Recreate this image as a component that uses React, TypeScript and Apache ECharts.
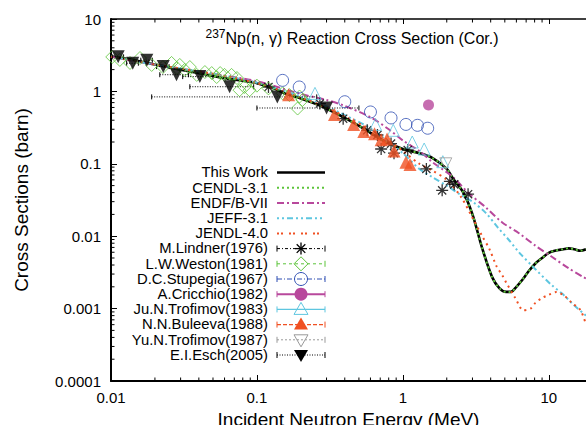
import React, { useEffect, useRef } from "react";
import * as echarts from "echarts";

const FONT = '"Liberation Sans", Arial, Helvetica, sans-serif';

const xTickLabels = ["0.01", "0.1", "1", "10"];
const yTickLabels = ["0.0001", "0.001", "0.01", "0.1", "1", "10"];
const decadesX = [0.01, 0.1, 1];
const decadesY = [0.0001, 0.001, 0.01, 0.1, 1];
const minorMultipliers = [2, 3, 4, 5, 6, 7, 8, 9];

// Evaluated curves
const thisWorkE = [0.01, 0.015, 0.02, 0.03, 0.044, 0.06, 0.08, 0.1, 0.13, 0.16, 0.2, 0.25, 0.3, 0.4, 0.55, 0.75, 1.0, 1.3, 1.6, 2.0, 2.2, 2.6, 3.0, 3.5, 4.1, 4.6, 5.1, 5.5, 6.0, 6.6, 7.3, 8.1, 9.0, 10.0, 11.0, 12.5, 13.7, 15.0, 16.5, 18.0];
const thisWorkS = [3.05, 2.65, 2.35, 2.0, 1.72, 1.52, 1.4, 1.3, 1.1, 0.92, 0.8, 0.68, 0.58, 0.43, 0.3, 0.205, 0.16, 0.14, 0.12, 0.085, 0.063, 0.04, 0.02, 0.0068, 0.0027, 0.0019, 0.0017, 0.0017, 0.002, 0.0025, 0.0033, 0.0042, 0.005, 0.0059, 0.0063, 0.0066, 0.0068, 0.0066, 0.0063, 0.0066];
const cendlE = [0.01, 0.015, 0.02, 0.03, 0.044, 0.06, 0.08, 0.1, 0.13, 0.16, 0.2, 0.25, 0.3, 0.4, 0.55, 0.75, 1.0, 1.3, 1.6, 2.0, 2.2, 2.6, 3.0, 3.5, 4.1, 4.6, 5.1, 5.5, 6.0, 6.6, 7.3, 8.1, 9.0, 10.0, 11.0, 12.5, 13.7, 15.0, 16.5, 18.0];
const cendlS = [3.05, 2.65, 2.35, 2.0, 1.72, 1.52, 1.4, 1.3, 1.1, 0.92, 0.8, 0.68, 0.58, 0.43, 0.3, 0.205, 0.16, 0.14, 0.12, 0.085, 0.063, 0.04, 0.02, 0.0068, 0.0027, 0.0019, 0.0017, 0.0017, 0.002, 0.0025, 0.0033, 0.0042, 0.005, 0.0059, 0.0063, 0.0066, 0.0068, 0.0066, 0.0063, 0.0066];
const endfE = [0.01, 0.02, 0.05, 0.1, 0.2, 0.3, 0.4, 0.6, 0.8, 1.0, 1.3, 1.6, 2.2, 2.8, 3.7, 4.8, 6.25, 8.1, 10.5, 13.7, 18.0];
const endfS = [3.0, 2.35, 1.75, 1.38, 0.92, 0.76, 0.63, 0.44, 0.3, 0.21, 0.15, 0.105, 0.066, 0.04, 0.025, 0.0155, 0.011, 0.0074, 0.0052, 0.0036, 0.0026];
const jeffE = [0.01, 0.02, 0.05, 0.1, 0.2, 0.3, 0.4, 0.6, 0.8, 1.0, 1.3, 1.6, 2.0, 2.5, 3.0, 3.7, 4.5, 5.3, 6.25, 8.1, 10.5, 12.4, 15.0, 18.0];
const jeffS = [3.0, 2.35, 1.75, 1.32, 0.85, 0.62, 0.47, 0.31, 0.2, 0.14, 0.085, 0.065, 0.05, 0.037, 0.03, 0.021, 0.013, 0.009, 0.006, 0.0035, 0.0021, 0.0016, 0.0011, 0.0008];
const jendlE = [0.01, 0.02, 0.05, 0.1, 0.2, 0.3, 0.4, 0.6, 0.8, 1.0, 1.3, 1.6, 2.0, 2.5, 3.0, 3.5, 3.9, 4.4, 4.8, 5.1, 5.9, 6.7, 7.5, 8.1, 9.0, 10.0, 11.3, 12.8, 14.4, 16.5, 18.0];
const jendlS = [3.0, 2.35, 1.75, 1.3, 0.82, 0.6, 0.45, 0.3, 0.21, 0.15, 0.1, 0.08, 0.06, 0.035, 0.018, 0.01, 0.0068, 0.0038, 0.0029, 0.0023, 0.0014, 0.00095, 0.001, 0.0012, 0.0014, 0.00155, 0.0017, 0.0015, 0.0012, 0.00095, 0.0006];

// Experimental data
const lindnerE = [0.12, 0.27, 0.39, 0.57, 0.67, 0.71, 0.83, 0.87, 1.08, 1.45, 1.86, 2.1, 2.25, 2.8];
const lindnerS = [1.15, 0.68, 0.42, 0.29, 0.25, 0.16, 0.19, 0.14, 0.155, 0.085, 0.043, 0.057, 0.052, 0.038];
const westonE = [0.0102, 0.0115, 0.0135, 0.0158, 0.019, 0.0227, 0.026, 0.0283, 0.0296, 0.032, 0.0347, 0.0387, 0.044, 0.049, 0.053, 0.056, 0.06, 0.067, 0.073, 0.076, 0.082, 0.089, 0.1, 0.12, 0.15, 0.167, 0.19, 0.196, 0.205];
const westonS = [2.99, 2.72, 2.47, 2.89, 2.32, 2.17, 2.47, 2.1, 2.32, 1.98, 2.17, 1.69, 1.85, 1.79, 1.58, 1.79, 1.69, 1.69, 1.53, 1.04, 1.15, 1.04, 1.2, 1.1, 0.94, 0.89, 0.58, 0.85, 0.76];
const stupegiaE = [0.15, 0.195, 0.4, 0.6, 0.83, 1.05, 1.26, 1.48];
const stupegiaS = [1.42, 1.15, 0.72, 0.52, 0.43, 0.35, 0.34, 0.31];
const cricchioE = [1.5];
const cricchioS = [0.65];
const trofimov83E = [0.25, 0.65, 0.86, 1.16, 1.4, 1.88];
const trofimov83S = [0.94, 0.35, 0.29, 0.2, 0.16, 0.107];
const buleevaE = [0.165, 0.34, 0.46, 0.54, 0.64, 0.71, 0.78, 0.87, 1.05, 1.12];
const buleevaS = [0.9, 0.48, 0.35, 0.28, 0.26, 0.215, 0.22, 0.15, 0.105, 0.098];
const trofimov87E = [1.97];
const trofimov87S = [0.1];
const eschE = [0.0112, 0.0141, 0.0176, 0.0228, 0.0281, 0.0406, 0.065, 0.138, 0.3];
const eschS = [3.0, 2.45, 2.7, 2.2, 1.7, 1.6, 1.16, 0.84, 0.59];
const eschLo = [0.0102, 0.0128, 0.016, 0.0205, 0.0216, 0.031, 0.0347, 0.019, 0.1];
const eschHi = [0.0122, 0.0154, 0.0192, 0.025, 0.034, 0.05, 0.095, 0.257, 0.5];

const C = {
  green: "#5cc43a",
  magenta: "#b8489c",
  cyan: "#5ec6e0",
  red: "#f05022",
  blue: "#2f4fb3",
  gray: "#999999",
  black: "#000000",
};

const ASTERISK = "path://M0 5L10 5M5 0L5 10M1.6 1.6L8.4 8.4M1.6 8.4L8.4 1.6";

const zip = (a: number[], b: number[]) => a.map((v, i) => [v, b[i]]);

function fmt(labels: string[]) {
  return (v: number) => {
    const hit = labels.find((l) => Math.abs(Number(l) / v - 1) < 1e-6);
    return hit ?? "";
  };
}

type LegendItem = {
  name: string;
  stroke: string;
  width: number;
  dash?: number[];
  marker?: string;
  color?: string;
  caps?: boolean;
};

const legendItems: LegendItem[] = [
  { name: "This Work", stroke: C.black, width: 2.5 },
  { name: "CENDL-3.1", stroke: C.green, width: 2, dash: [2, 3] },
  { name: "ENDF/B-VII", stroke: C.magenta, width: 2, dash: [7, 3, 2, 3] },
  { name: "JEFF-3.1", stroke: C.cyan, width: 2, dash: [2, 3, 2, 3, 6, 3] },
  { name: "JENDL-4.0", stroke: C.red, width: 2, dash: [2, 2, 2, 6] },
  { name: "M.Lindner(1976)", stroke: C.black, width: 1, dash: [3, 2, 1, 2], marker: "asterisk", color: C.black, caps: true },
  { name: "L.W.Weston(1981)", stroke: C.green, width: 1, dash: [3, 3], marker: "diamond", color: C.green, caps: true },
  { name: "D.C.Stupegia(1967)", stroke: C.blue, width: 1, dash: [5, 2, 1, 2], marker: "circle", color: C.blue, caps: true },
  { name: "A.Cricchio(1982)", stroke: C.magenta, width: 2, marker: "fcircle", color: C.magenta, caps: true },
  { name: "Ju.N.Trofimov(1983)", stroke: C.cyan, width: 1.2, marker: "triangle", color: C.cyan, caps: true },
  { name: "N.N.Buleeva(1988)", stroke: C.red, width: 1.2, dash: [4, 2], marker: "ftriangle", color: C.red, caps: true },
  { name: "Yu.N.Trofimov(1987)", stroke: C.gray, width: 1, dash: [2, 2], marker: "dtriangle", color: C.gray, caps: true },
  { name: "E.I.Esch(2005)", stroke: C.black, width: 1, dash: [1, 1.5], marker: "fdtriangle", color: C.black, caps: true },
];

function legendGraphics() {
  const els: any[] = [];
  const textRight = 268;
  const x1 = 277;
  const x2 = 325;
  const xm = 301;
  legendItems.forEach((it, i) => {
    const y = 172.6 + 15.2 * i;
    els.push({
      type: "text",
      silent: true,
      x: textRight,
      y,
      scaleX: 1.06,
      style: { text: it.name, x: 0, y: 0, align: "right", verticalAlign: "middle", fontSize: 14, lineHeight: 14, fontFamily: FONT, fill: "#000" },
    });
    els.push({
      type: "line",
      silent: true,
      shape: { x1, y1: y, x2, y2: y },
      style: { stroke: it.stroke, lineWidth: it.width, lineDash: it.dash ?? null },
    });
    if (it.caps) {
      [x1, x2].forEach((cx) =>
        els.push({ type: "line", silent: true, shape: { x1: cx, y1: y - 3, x2: cx, y2: y + 3 }, style: { stroke: it.stroke, lineWidth: 1 } })
      );
    }
    const col = it.color ?? "#000";
    switch (it.marker) {
      case "asterisk":
        [[-6, 0, 6, 0], [0, -6, 0, 6], [-4.3, -4.3, 4.3, 4.3], [-4.3, 4.3, 4.3, -4.3]].forEach((s) =>
          els.push({ type: "line", silent: true, shape: { x1: xm + s[0], y1: y + s[1], x2: xm + s[2], y2: y + s[3] }, style: { stroke: col, lineWidth: 1.3 } })
        );
        break;
      case "diamond":
        els.push({ type: "polygon", silent: true, shape: { points: [[xm, y - 7], [xm + 7, y], [xm, y + 7], [xm - 7, y]] }, style: { stroke: col, fill: "none", lineWidth: 1 } });
        break;
      case "circle":
        els.push({ type: "circle", silent: true, shape: { cx: xm, cy: y, r: 6.5 }, style: { stroke: col, fill: "none", lineWidth: 1 } });
        break;
      case "fcircle":
        els.push({ type: "circle", silent: true, shape: { cx: xm, cy: y, r: 6.5 }, style: { fill: col } });
        break;
      case "triangle":
        els.push({ type: "polygon", silent: true, shape: { points: [[xm, y - 7], [xm + 7, y + 5], [xm - 7, y + 5]] }, style: { stroke: col, fill: "none", lineWidth: 1 } });
        break;
      case "ftriangle":
        els.push({ type: "polygon", silent: true, shape: { points: [[xm, y - 7], [xm + 7, y + 5], [xm - 7, y + 5]] }, style: { fill: col } });
        break;
      case "dtriangle":
        els.push({ type: "polygon", silent: true, shape: { points: [[xm - 7, y - 5], [xm + 7, y - 5], [xm, y + 7]] }, style: { stroke: col, fill: "none", lineWidth: 1 } });
        break;
      case "fdtriangle":
        els.push({ type: "polygon", silent: true, shape: { points: [[xm - 7, y - 5], [xm + 7, y - 5], [xm, y + 7]] }, style: { fill: col } });
        break;
    }
  });
  return els;
}

export default function App() {
  const ref = useRef<HTMLDivElement>(null);

  useEffect(() => {
    if (!ref.current) return;
    const chart = echarts.init(ref.current, undefined, { renderer: "svg" });

    const xMinorTicks = decadesX.flatMap((d) => minorMultipliers.map((m) => d * m));
    const yMinorTicks = decadesY.flatMap((d) => minorMultipliers.map((m) => d * m));

    const curve = (name: string, e: number[], s: number[], color: string, width: number, type: any) => ({
      name,
      type: "line",
      data: zip(e, s),
      showSymbol: false,
      symbol: "none",
      smooth: 0.3,
      lineStyle: { color, width, type },
      z: 2,
    });

    const scatter = (name: string, e: number[], s: number[], symbol: string, size: number, itemStyle: any, rotate = 0) => ({
      name,
      type: "scatter",
      data: zip(e, s),
      symbol,
      symbolSize: size,
      symbolRotate: rotate,
      itemStyle,
      z: 3,
    });

    const option: any = {
      animation: false,
      backgroundColor: "#fff",
      grid: { left: 111, right: 0, top: 19, bottom: 44, containLabel: false, outerBoundsMode: "none" },
      xAxis: [
        {
          type: "log",
          logBase: 10,
          min: 0.01,
          max: 18,
          name: "Incident Neutron Energy (MeV)",
          nameLocation: "middle",
          nameGap: 26,
          nameTextStyle: { fontSize: 19, color: "#000", fontFamily: FONT },
          axisLine: { show: true, lineStyle: { color: "#000", width: 2 } },
          axisTick: { show: true, inside: true, length: 6, lineStyle: { color: "#000", width: 1 } },
          minorTick: { show: false },
          axisLabel: { margin: 9, color: "#000", fontSize: 15, fontFamily: FONT, formatter: fmt(xTickLabels), showMaxLabel: false },
          splitLine: { show: false },
        },
        {
          type: "log",
          logBase: 10,
          min: 0.01,
          max: 18,
          position: "top",
          axisLine: { show: true, lineStyle: { color: "#000", width: 1.5 } },
          axisTick: { show: true, inside: true, length: 5, lineStyle: { color: "#000", width: 1 } },
          axisLabel: { show: false },
          splitLine: { show: false },
        },
      ],
      yAxis: {
        type: "log",
        logBase: 10,
        min: 0.0001,
        max: 10,
        name: "Cross Sections (barn)",
        nameLocation: "middle",
        nameGap: 80,
        nameTextStyle: { fontSize: 19, color: "#000", fontFamily: FONT },
        axisLine: { show: true, lineStyle: { color: "#000", width: 2 } },
        axisTick: { show: true, inside: true, length: 6, lineStyle: { color: "#000", width: 1 } },
        axisLabel: { margin: 10, color: "#000", fontSize: 15, fontFamily: FONT, formatter: fmt(yTickLabels) },
        splitLine: { show: false },
      },
      graphic: [
        {
          type: "text",
          silent: true,
          style: {
            text: "{sup|237}{main|Np(n, γ) Reaction Cross Section (Cor.)}",
            x: 352,
            y: 38,
            align: "center",
            verticalAlign: "middle",
            rich: {
              sup: { fontSize: 12, fontFamily: FONT, fill: "#000", verticalAlign: "top", padding: [0, 0, 8, 0] },
              main: { fontSize: 16, fontFamily: FONT, fill: "#000" },
            },
          },
        },
        ...legendGraphics(),
      ],
      series: [
        {
          type: "custom",
          silent: true,
          clip: false,
          data: xMinorTicks.map((v) => [v, 1]),
          renderItem: (params: any, api: any) => {
            const cs = params.coordSys;
            const x = api.coord([api.value(0), 1])[0];
            const yb = cs.y + cs.height;
            const yt = cs.y;
            return {
              type: "group",
              children: [
                { type: "line", shape: { x1: x, y1: yb, x2: x, y2: yb - 3.5 }, style: { stroke: "#000", lineWidth: 1 } },
                { type: "line", shape: { x1: x, y1: yt, x2: x, y2: yt + 3.5 }, style: { stroke: "#000", lineWidth: 1 } },
              ],
            };
          },
          z: 1,
        },
        {
          type: "custom",
          silent: true,
          clip: false,
          data: yMinorTicks.map((v) => [1, v]),
          renderItem: (params: any, api: any) => {
            const cs = params.coordSys;
            const y = api.coord([1, api.value(1)])[1];
            return { type: "line", shape: { x1: cs.x, y1: y, x2: cs.x + 3.5, y2: y }, style: { stroke: "#000", lineWidth: 1 } };
          },
          z: 1,
        },
        curve("This Work", thisWorkE, thisWorkS, C.black, 2.6, "solid"),
        curve("CENDL-3.1", cendlE, cendlS, C.green, 2, [2, 3]),
        curve("ENDF/B-VII", endfE, endfS, C.magenta, 2, [7, 3, 2, 3]),
        curve("JEFF-3.1", jeffE, jeffS, C.cyan, 2, [2, 3, 2, 3, 6, 3]),
        curve("JENDL-4.0", jendlE, jendlS, C.red, 2, [2, 4]),
        {
          name: "E.I.Esch(2005) error",
          type: "custom",
          silent: true,
          data: eschE.map((_, i) => [eschLo[i], eschHi[i], eschS[i]]),
          encode: { x: [0, 1], y: 2 },
          renderItem: (_p: any, api: any) => {
            const a = api.coord([api.value(0), api.value(2)]);
            const b = api.coord([api.value(1), api.value(2)]);
            return {
              type: "group",
              children: [
                { type: "line", shape: { x1: a[0], y1: a[1], x2: b[0], y2: b[1] }, style: { stroke: "#000", lineWidth: 1, lineDash: [1, 1.5] } },
                { type: "line", shape: { x1: a[0], y1: a[1] - 2.5, x2: a[0], y2: a[1] + 2.5 }, style: { stroke: "#000", lineWidth: 1 } },
                { type: "line", shape: { x1: b[0], y1: b[1] - 2.5, x2: b[0], y2: b[1] + 2.5 }, style: { stroke: "#000", lineWidth: 1 } },
              ],
            };
          },
          z: 3,
        },
        scatter("M.Lindner(1976)", lindnerE, lindnerS, ASTERISK, 12, { color: "transparent", borderColor: C.black, borderWidth: 1.3 }),
        scatter("L.W.Weston(1981)", westonE, westonS, "diamond", 13, { color: "transparent", borderColor: C.green, borderWidth: 1 }),
        scatter("D.C.Stupegia(1967)", stupegiaE, stupegiaS, "circle", 12, { color: "transparent", borderColor: C.blue, borderWidth: 1 }),
        scatter("A.Cricchio(1982)", cricchioE, cricchioS, "circle", 11, { color: C.magenta }),
        scatter("Ju.N.Trofimov(1983)", trofimov83E, trofimov83S, "triangle", 12, { color: "transparent", borderColor: C.cyan, borderWidth: 1 }),
        scatter("N.N.Buleeva(1988)", buleevaE, buleevaS, "triangle", 13, { color: C.red }),
        scatter("Yu.N.Trofimov(1987)", trofimov87E, trofimov87S, "triangle", 12, { color: "transparent", borderColor: C.gray, borderWidth: 1 }, 180),
        scatter("E.I.Esch(2005)", eschE, eschS, "triangle", 13, { color: C.black }, 180),
      ],
    };

    chart.setOption(option);
    return () => chart.dispose();
  }, []);

  return <div ref={ref} style={{ width: 586, height: 425, position: "absolute", left: 0, top: 0 }} />;
}
